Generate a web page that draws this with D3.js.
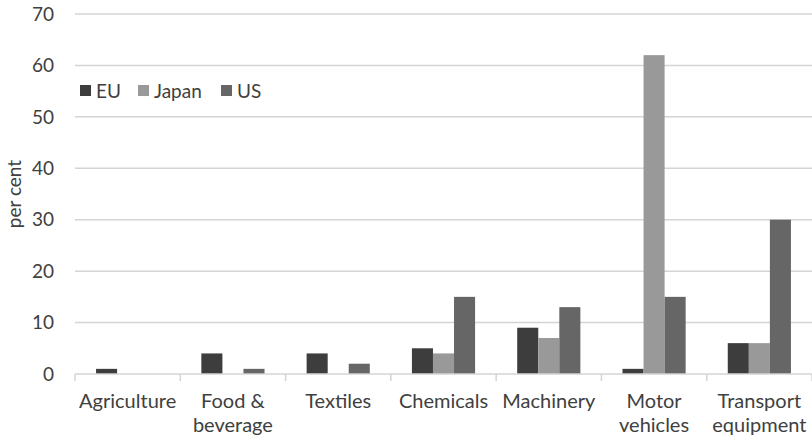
<!DOCTYPE html>
<html>
<head>
<meta charset="utf-8">
<script src="https://cdn.jsdelivr.net/npm/d3@7"></script>
<style>
  body { margin: 0; background: #fff; }
  text { font-family: Lato, "Open Sans", sans-serif; fill: #404040; }
</style>
</head>
<body>
<div id="vis"></div>
<script>
// data
var categories = ["Agriculture", "Food & beverage", "Textiles", "Chemicals", "Machinery", "Motor vehicles", "Transport equipment"];
var catLines = [["Agriculture"], ["Food &", "beverage"], ["Textiles"], ["Chemicals"], ["Machinery"], ["Motor", "vehicles"], ["Transport", "equipment"]];
var seriesNames = ["EU", "Japan", "US"];
var euValues = [1, 4, 4, 5, 9, 1, 6];
var japanValues = [0, 0, 0, 4, 7, 62, 6];
var usValues = [0, 1, 2, 15, 13, 15, 30];
var yTicks = [0, 10, 20, 30, 40, 50, 60, 70];

var colors = { EU: "#3d3d3d", Japan: "#999999", US: "#666666" };

// SVG geometry
var width = 812;
var height = 440;
var margin = { top: 14, left: 75, bottom: 66, right: 0 };
var innerW = width - margin.left - margin.right;
var innerH = height - margin.top - margin.bottom;

var svg = d3.select('#vis')
  .append("svg")
  .attr('width', width)
  .attr('height', height);

var g = svg.append("g")
  .attr('transform', 'translate(' + margin.left + ',' + margin.top + ')');

var x0 = d3.scaleBand()
  .domain(categories)
  .range([0, innerW])
  .paddingInner(0.4)
  .paddingOuter(0.2);

var x1 = d3.scaleBand()
  .domain(seriesNames)
  .range([0, x0.bandwidth()]);

var y = d3.scaleLinear()
  .domain([0, 70])
  .range([innerH, 0]);

var rows = categories.map(function(c, i) {
  return { cat: c, EU: euValues[i], Japan: japanValues[i], US: usValues[i] };
});

// gridlines
g.selectAll(".grid")
  .data(yTicks.slice(1))
  .enter().append("line")
  .attr("x1", 0)
  .attr("x2", innerW)
  .attr("y1", function(d) { return y(d); })
  .attr("y2", function(d) { return y(d); })
  .attr("stroke", "#d4d4d4")
  .attr("stroke-width", 1.5);

// y axis labels
g.selectAll(".ylab")
  .data(yTicks)
  .enter().append("text")
  .attr("x", -21)
  .attr("y", function(d) { return y(d); })
  .attr("dy", "0.35em")
  .attr("text-anchor", "end")
  .style("font-size", "19px")
  .text(function(d) { return d; });

// bars
var groups = g.selectAll(".grp")
  .data(rows)
  .enter().append("g")
  .attr("transform", function(d) { return "translate(" + x0(d.cat) + ",0)"; });

groups.selectAll("rect")
  .data(function(d) { return seriesNames.map(function(s) { return { key: s, value: d[s] }; }); })
  .enter().append("rect")
  .attr("x", function(d) { return x1(d.key); })
  .attr("width", x1.bandwidth())
  .attr("y", function(d) { return y(d.value); })
  .attr("height", function(d) { return innerH - y(d.value); })
  .attr("fill", function(d) { return colors[d.key]; });

// x axis line and ticks
var bounds = d3.range(categories.length + 1).map(function(i) { return i * x0.step(); });
g.append("line")
  .attr("x1", 0).attr("x2", innerW)
  .attr("y1", innerH).attr("y2", innerH)
  .attr("stroke", "#d4d4d4")
  .attr("stroke-width", 1.5);
g.selectAll(".xtick")
  .data(bounds)
  .enter().append("line")
  .attr("x1", function(d) { return d; })
  .attr("x2", function(d) { return d; })
  .attr("y1", innerH)
  .attr("y2", innerH + 7)
  .attr("stroke", "#d4d4d4")
  .attr("stroke-width", 1.5);

// category labels
var xl = g.selectAll(".xlab")
  .data(categories)
  .enter().append("text")
  .attr("x", function(d) { return x0(d) + x0.bandwidth() / 2; })
  .attr("y", innerH + 34)
  .attr("text-anchor", "middle")
  .style("font-size", "20px");
xl.selectAll("tspan")
  .data(function(d, i) { return catLines[i]; })
  .enter().append("tspan")
  .attr("x", function() { return d3.select(this.parentNode).attr("x"); })
  .attr("dy", function(d, i) { return i === 0 ? 0 : 24; })
  .text(function(d) { return d; });

// y title
svg.append("text")
  .attr("transform", "translate(21,194) rotate(-90)")
  .attr("text-anchor", "middle")
  .style("font-size", "19px")
  .text("per cent");

// legend
var legX = [80, 138, 221];
var leg = svg.selectAll(".leg")
  .data(seriesNames)
  .enter().append("g")
  .attr("transform", function(d, i) { return "translate(" + legX[i] + ",85)"; });
leg.append("rect")
  .attr("width", 11).attr("height", 11)
  .attr("fill", function(d) { return colors[d]; });
leg.append("text")
  .attr("x", 16)
  .attr("y", 6)
  .attr("dy", "0.35em")
  .style("font-size", "19px")
  .text(function(d) { return d; });
</script>
</body>
</html>
